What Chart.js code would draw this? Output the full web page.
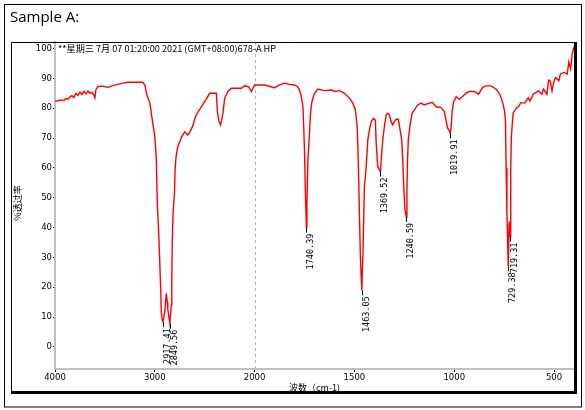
<!DOCTYPE html>
<html>
<head>
<meta charset="utf-8">
<script src="https://cdn.jsdelivr.net/npm/chart.js@4.4.0/dist/chart.umd.min.js"></script>
<style>
  html, body { margin: 0; padding: 0; background: #fff; }
</style>
</head>
<body>
<canvas id="spectrum" width="585" height="410"></canvas>
<script>
(function () {
    "use strict";

    // spectrum: wavenumber (cm-1) and % transmittance
    const wavenumbers = [
        4000, 3970, 3940, 3910, 3890, 3870, 3850, 3830, 3810, 3790, 3770, 3750, 3730, 3710, 3690, 3670,
        3650, 3630, 3610, 3600, 3590, 3570, 3520, 3470, 3420, 3370, 3320, 3270, 3190, 3120, 3100, 3080,
        3050, 3030, 3000, 2985, 2975, 2960, 2950, 2940, 2935, 2925, 2917.41, 2900, 2885, 2875, 2870, 2849.56,
        2835, 2830, 2825, 2817, 2803, 2797, 2787, 2770, 2750, 2730, 2700, 2670, 2650, 2620, 2590, 2533,
        2500, 2450, 2383, 2373, 2360, 2343, 2330, 2317, 2300, 2267, 2233, 2133, 2100, 2060, 2033, 2000,
        1950, 1900, 1875, 1850, 1825, 1800, 1785, 1775, 1766, 1758, 1754, 1750, 1745, 1740.39, 1738, 1733,
        1725, 1720, 1713, 1700, 1683, 1650, 1617, 1595, 1575, 1550, 1525, 1508, 1495, 1486, 1480, 1475,
        1470, 1463.05, 1457, 1450, 1441, 1433, 1425, 1416, 1405, 1395, 1391, 1383, 1369.52, 1366, 1358, 1350,
        1341, 1333, 1325, 1316, 1308, 1300, 1291, 1280, 1271, 1263, 1258, 1253, 1247, 1240.59, 1237, 1234,
        1230, 1220, 1211, 1200, 1183, 1166, 1150, 1125, 1108, 1091, 1066, 1050, 1041, 1033, 1025, 1019.91,
        1015, 1010, 1003, 990, 975, 958, 942, 925, 900, 878, 858, 841, 815, 790, 773, 765,
        757, 748, 743, 740, 736, 729.38, 725, 719.31, 717, 714, 705, 688, 675, 668, 646, 629,
        621, 604, 578, 561, 553, 536, 527, 519, 510, 502, 493, 476, 468, 451, 434, 426,
        417, 409, 400
    ];
    const transmittance = [
        82.3, 82.5, 82.8, 82.6, 83.3, 83.0, 83.8, 84.2, 83.6, 85.0, 84.3, 85.4, 84.6, 85.6, 84.8, 85.8,
        85.0, 85.3, 84.4, 83.5, 86.2, 87.3, 87.4, 87.0, 87.6, 88.0, 88.4, 88.7, 88.7, 88.7, 87.8, 84.5,
        81.8, 77.2, 70.5, 63.3, 48.2, 37.5, 28.0, 18.5, 11.6, 9.0, 8.3, 12.0, 18.0, 15.0, 12.7, 7.8,
        14.0, 22.0, 35.0, 44.9, 51.6, 59.3, 63.8, 67.1, 68.8, 70.5, 72.1, 71.0, 72.0, 74.0, 77.5, 80.5,
        82.2, 85.0, 85.0, 78.9, 76.0, 74.4, 76.0, 78.4, 83.4, 85.6, 86.7, 86.7, 87.5, 87.2, 85.6, 87.8,
        87.8, 86.9, 87.8, 88.4, 88.0, 87.8, 87.2, 86.1, 83.9, 80.5, 73.8, 65.4, 50.0, 40.0, 48.0, 62.7,
        71.7, 78.4, 82.2, 85.0, 86.4, 85.9, 86.1, 85.6, 85.9, 85.0, 83.4, 81.7, 79.4, 73.8, 60.4, 45.0,
        30.0, 19.0, 32.0, 53.7, 60.4, 69.4, 72.7, 75.5, 76.6, 76.0, 68.3, 60.4, 58.8, 62.7, 69.4, 73.8,
        77.8, 78.3, 77.8, 75.5, 74.4, 75.5, 76.3, 76.3, 72.7, 69.4, 62.7, 53.7, 46.0, 43.6, 52.0, 62.7,
        69.4, 75.0, 78.3, 79.4, 81.1, 81.7, 81.1, 81.7, 81.9, 80.5, 80.2, 78.9, 76.0, 73.3, 72.5, 71.6,
        74.0, 79.4, 82.2, 83.9, 83.0, 83.9, 85.0, 85.6, 85.6, 84.7, 87.0, 87.5, 87.5, 86.4, 84.7, 83.5,
        81.8, 79.0, 75.6, 60.0, 45.0, 27.0, 42.0, 37.0, 59.0, 70.3, 78.4, 80.1, 80.7, 81.8, 81.8, 83.5,
        82.4, 84.7, 85.8, 84.7, 86.4, 84.7, 89.4, 89.1, 85.8, 88.6, 90.3, 89.2, 91.5, 92.0, 91.5, 95.5,
        93.2, 98.3, 100.6
    ];

    const peakWavenumbers = [2917.41, 2849.56, 1740.39, 1463.05, 1369.52, 1240.59, 1019.91, 729.38, 719.31];
    const peakValues = [8.3, 7.8, 40.0, 19.0, 58.8, 43.6, 71.6, 27.0, 37.0];

    const xTickLabels = [4000, 3000, 2000, 1500, 1000, 500];
    const yTickValues = [0, 10, 20, 30, 40, 50, 60, 70, 80, 90, 100];

    const headerText = "**星期三 7月 07 01:20:00 2021 (GMT+08:00)678-A HP";

    // the x axis is expanded 2x below 2000 cm-1, so map wavenumber -> axis units
    function toAxis(w) {
        return w >= 2000 ? (4000 - w) / 1000 : 2 + (2000 - w) / 500;
    }
    function fromAxis(u) {
        return u <= 2 ? 4000 - u * 1000 : 2000 - (u - 2) * 500;
    }

    const points = wavenumbers.map((w, i) => ({ x: toAxis(w), y: transmittance[i] }));

    const decorations = {
        id: "decorations",
        beforeDraw(chart) {
            const ctx = chart.ctx;
            ctx.save();
            ctx.fillStyle = "#fff";
            ctx.fillRect(0, 0, chart.width, chart.height);
            ctx.restore();
        },
        beforeDatasetsDraw(chart) {
            const ctx = chart.ctx;
            const area = chart.chartArea;
            const x = Math.round(chart.scales.x.getPixelForValue(toAxis(2000))) + 0.5;
            ctx.save();
            ctx.strokeStyle = "#b4b4b4";
            ctx.lineWidth = 1;
            ctx.setLineDash([3, 3]);
            ctx.beginPath();
            ctx.moveTo(x, area.top);
            ctx.lineTo(x, area.bottom);
            ctx.stroke();
            ctx.restore();
        },
        afterDraw(chart) {
            const ctx = chart.ctx;
            const xs = chart.scales.x;
            const ys = chart.scales.y;
            ctx.save();

            // panel and frame
            ctx.strokeStyle = "#000";
            ctx.lineWidth = 1;
            ctx.strokeRect(4.5, 4.5, 577, 402.5);
            ctx.beginPath();
            ctx.moveTo(11.5, 393);
            ctx.lineTo(11.5, 42.5);
            ctx.lineTo(575, 42.5);
            ctx.stroke();
            ctx.fillStyle = "#000";
            ctx.fillRect(574, 42, 3, 352);
            ctx.fillRect(11, 391, 566, 3);

            ctx.font = "15px 'Open Sans'";
            ctx.textBaseline = "alphabetic";
            ctx.fillText("Sample A:", 10, 22);

            // header line inside the plot
            ctx.font = "9px 'Noto Sans CJK SC'";
            ctx.textBaseline = "middle";
            const hw = ctx.measureText(headerText).width;
            ctx.save();
            ctx.translate(58, 49);
            ctx.scale(218 / hw, 1);
            ctx.fillText(headerText, 0, 0);
            ctx.restore();

            // axis titles
            ctx.textAlign = "center";
            ctx.fillText("波数（cm-1)", (chart.chartArea.left + chart.chartArea.right) / 2, 388);
            ctx.save();
            ctx.translate(18, 203);
            ctx.rotate(-Math.PI / 2);
            ctx.fillText("%透过率", 0, 0);
            ctx.restore();

            // peak markers
            ctx.font = "8.5px 'DejaVu Sans Mono'";
            ctx.textAlign = "right";
            ctx.textBaseline = "top";
            peakWavenumbers.forEach((w, i) => {
                const px = Math.round(xs.getPixelForValue(toAxis(w)));
                const py = ys.getPixelForValue(peakValues[i]);
                ctx.fillRect(px, py, 1, 5);
                ctx.save();
                ctx.translate(px + 1, py + 6);
                ctx.rotate(-Math.PI / 2);
                ctx.fillText(w.toFixed(2), 0, 0);
                ctx.restore();
            });

            ctx.restore();
        }
    };

    new Chart(document.getElementById("spectrum"), {
        type: "line",
        data: {
            datasets: [{
                data: points,
                borderColor: "#ff0000",
                borderWidth: 1.4,
                pointRadius: 0,
                tension: 0,
                fill: false
            }]
        },
        options: {
            responsive: false,
            animation: false,
            layout: { padding: { top: 42, right: 11, left: 0, bottom: 0 } },
            plugins: {
                legend: { display: false },
                tooltip: { enabled: false }
            },
            scales: {
                x: {
                    type: "linear",
                    min: 0,
                    max: toAxis(400),
                    afterFit: function (scale) { scale.height = 41; },
                    afterBuildTicks: function (scale) {
                        scale.ticks = xTickLabels.map(w => ({ value: toAxis(w) }));
                    },
                    ticks: {
                        callback: v => String(Math.round(fromAxis(v))),
                        font: { family: "DejaVu Sans", size: 8.5 },
                        color: "#000",
                        padding: 1,
                        maxRotation: 0,
                        autoSkip: false
                    },
                    grid: { drawOnChartArea: false, tickLength: 3, color: "#000" },
                    border: { color: "#c0c0c0", width: 2 }
                },
                y: {
                    min: -7.4,
                    max: 102.2,
                    afterFit: function (scale) { scale.width = 55; },
                    afterBuildTicks: function (scale) {
                        scale.ticks = yTickValues.map(v => ({ value: v }));
                    },
                    ticks: {
                        font: { family: "DejaVu Sans", size: 8.5 },
                        color: "#000",
                        padding: 1
                    },
                    grid: { drawOnChartArea: false, tickLength: 2, color: "#000" },
                    border: { color: "#c0c0c0", width: 2 }
                }
            }
        },
        plugins: [decorations]
    });
})();
</script>
</body>
</html>
